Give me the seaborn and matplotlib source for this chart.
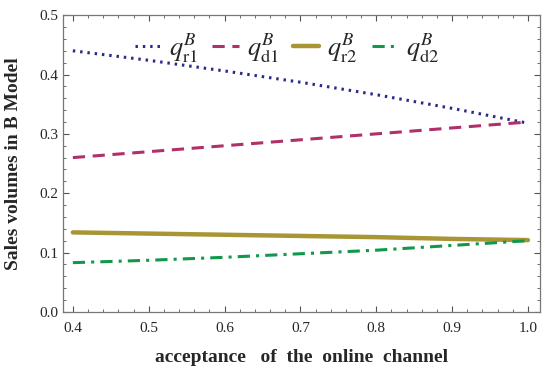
import numpy as np
import pandas as pd
import seaborn as sns
import matplotlib.pyplot as plt
from matplotlib.ticker import MultipleLocator

# data
acceptance = [0.4, 0.5, 0.6, 0.7, 0.8, 0.9, 1.0]
q_r1 = [0.440, 0.424, 0.406, 0.387, 0.366, 0.343, 0.318]
q_d1 = [0.260, 0.270, 0.280, 0.290, 0.300, 0.310, 0.320]
q_r2 = [0.134, 0.132, 0.130, 0.128, 0.126, 0.123, 0.121]
q_d2 = [0.083, 0.087, 0.092, 0.098, 0.104, 0.112, 0.120]

sns.set_style("ticks")
plt.rcParams['font.family'] = ['Liberation Serif', 'DejaVu Serif']
plt.rcParams['mathtext.fontset'] = 'stix'

fig = plt.figure(figsize=(5.5, 3.7), dpi=100)
ax = fig.add_axes([0.1145, 0.157, 0.8675, 0.802])

sns.lineplot(x=acceptance, y=q_r1, ax=ax, color='#2a2a8c', lw=2.2,
             linestyle=(0, (0.8, 1.6)), label=r'$q^{B}_{\mathrm{r1}}$')
sns.lineplot(x=acceptance, y=q_d1, ax=ax, color='#b0306a', lw=2.2,
             linestyle=(0, (4, 2.5)), label=r'$q^{B}_{\mathrm{d1}}$')
sns.lineplot(x=acceptance, y=q_r2, ax=ax, color='#a89536', lw=3.2,
             linestyle='-', label=r'$q^{B}_{\mathrm{r2}}$')
sns.lineplot(x=acceptance, y=q_d2, ax=ax, color='#12984a', lw=2.2,
             linestyle=(0, (4, 2, 1, 2)), label=r'$q^{B}_{\mathrm{d2}}$')

ax.set_xlim(0.387, 1.016)
ax.set_ylim(0, 0.5)
ax.xaxis.set_major_locator(MultipleLocator(0.1))
ax.xaxis.set_minor_locator(MultipleLocator(0.02))
ax.yaxis.set_major_locator(MultipleLocator(0.1))
ax.yaxis.set_minor_locator(MultipleLocator(0.02))
ax.xaxis.set_major_formatter(plt.FuncFormatter(lambda v, p: f"{v:.1f}"))
ax.yaxis.set_major_formatter(plt.FuncFormatter(lambda v, p: f"{v:.1f}"))
ax.tick_params(which='both', direction='in', top=True, right=True,
               color='#555555', labelsize=11)
ax.tick_params(axis='x', pad=7)
ax.tick_params(which='major', length=4)
ax.tick_params(which='minor', length=2)
for s in ax.spines.values():
    s.set_color('#777777')
    s.set_linewidth(0.9)

ax.set_xlabel('acceptance   of  the  online  channel', fontsize=14,
              fontweight='bold', labelpad=10)
ax.set_ylabel('Sales volumes in B Model', fontsize=14, fontweight='bold',
              labelpad=12)

ax.legend(loc='upper center', bbox_to_anchor=(0.47, 1.025), ncol=4, frameon=False,
          fontsize=19, handlelength=1.0, columnspacing=0.55, handletextpad=0.3)

fig.savefig('out.png', dpi=100)
